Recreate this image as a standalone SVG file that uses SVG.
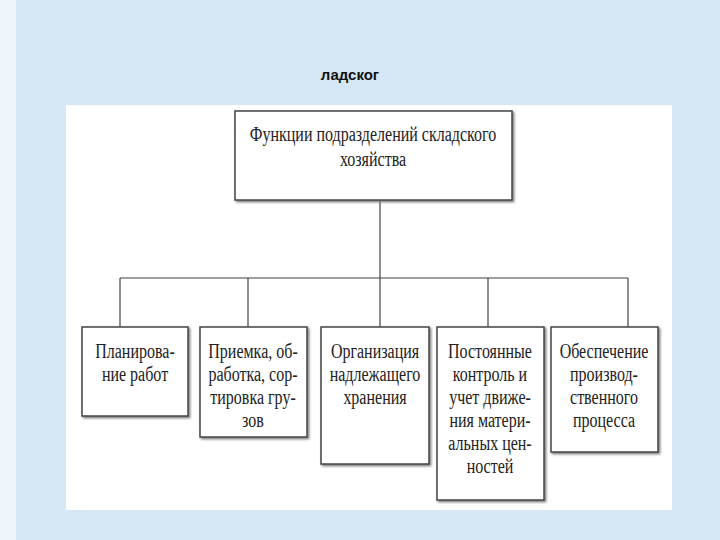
<svg xmlns="http://www.w3.org/2000/svg" width="720" height="540" viewBox="0 0 720 540">
<style>
.b{fill:#fff;stroke:#444;stroke-width:1.5}
.t{font-family:'Liberation Serif','DejaVu Serif',serif;font-size:20px;fill:#222;text-anchor:middle}
.c{stroke:#444;stroke-width:1.2;fill:none}
</style>
<defs><filter id="s"><feDropShadow dx="1.5" dy="1.5" stdDeviation="0.8" flood-color="#777"/></filter></defs>
<rect width="720" height="540" fill="#d6e8f5"/>
<rect x="0" y="0" width="16" height="540" fill="#eef5fb"/>
<text x="350" y="80" font-family="'Liberation Sans',sans-serif" font-weight="bold" font-size="15" text-anchor="middle" fill="#111">ладског</text>
<rect x="66" y="105" width="606" height="405" fill="#fff"/>
<g id="connectors" class="c">
<path d="M380 200V278M120 278H628M120 278V327M248 278V327M380 278V327M488 278V327M628 278V327"/>
</g>
<g id="root"><rect class="b" filter="url(#s)" x="235" y="111" width="277" height="89"/>
<g transform="translate(373,0) scale(0.8,1)"><text class="t" x="0" y="141">Функции подразделений складского</text><text class="t" x="0" y="166">хозяйства</text></g></g>
<g id="n1"><rect class="b" filter="url(#s)" x="82" y="327" width="106" height="89"/>
<g transform="translate(135,0) scale(0.8,1)"><text class="t" x="0" y="358">Планирова-</text><text class="t" x="0" y="381">ние работ</text></g></g>
<g id="n2"><rect class="b" filter="url(#s)" x="200" y="327" width="107" height="110"/>
<g transform="translate(253,0) scale(0.8,1)"><text class="t" x="0" y="358">Приемка, об-</text><text class="t" x="0" y="381">работка, сор-</text><text class="t" x="0" y="404">тировка гру-</text><text class="t" x="0" y="427">зов</text></g></g>
<g id="n3"><rect class="b" filter="url(#s)" x="321" y="327" width="108" height="137"/>
<g transform="translate(375,0) scale(0.8,1)"><text class="t" x="0" y="358">Организация</text><text class="t" x="0" y="381">надлежащего</text><text class="t" x="0" y="404">хранения</text></g></g>
<g id="n4"><rect class="b" filter="url(#s)" x="437" y="327" width="107" height="173"/>
<g transform="translate(490,0) scale(0.8,1)"><text class="t" x="0" y="358">Постоянные</text><text class="t" x="0" y="381">контроль и</text><text class="t" x="0" y="404">учет движе-</text><text class="t" x="0" y="427">ния матери-</text><text class="t" x="0" y="450">альных цен-</text><text class="t" x="0" y="473">ностей</text></g></g>
<g id="n5"><rect class="b" filter="url(#s)" x="551" y="327" width="107" height="125"/>
<g transform="translate(604,0) scale(0.8,1)"><text class="t" x="0" y="358">Обеспечение</text><text class="t" x="0" y="381">производ-</text><text class="t" x="0" y="404">ственного</text><text class="t" x="0" y="427">процесса</text></g></g>
</svg>
